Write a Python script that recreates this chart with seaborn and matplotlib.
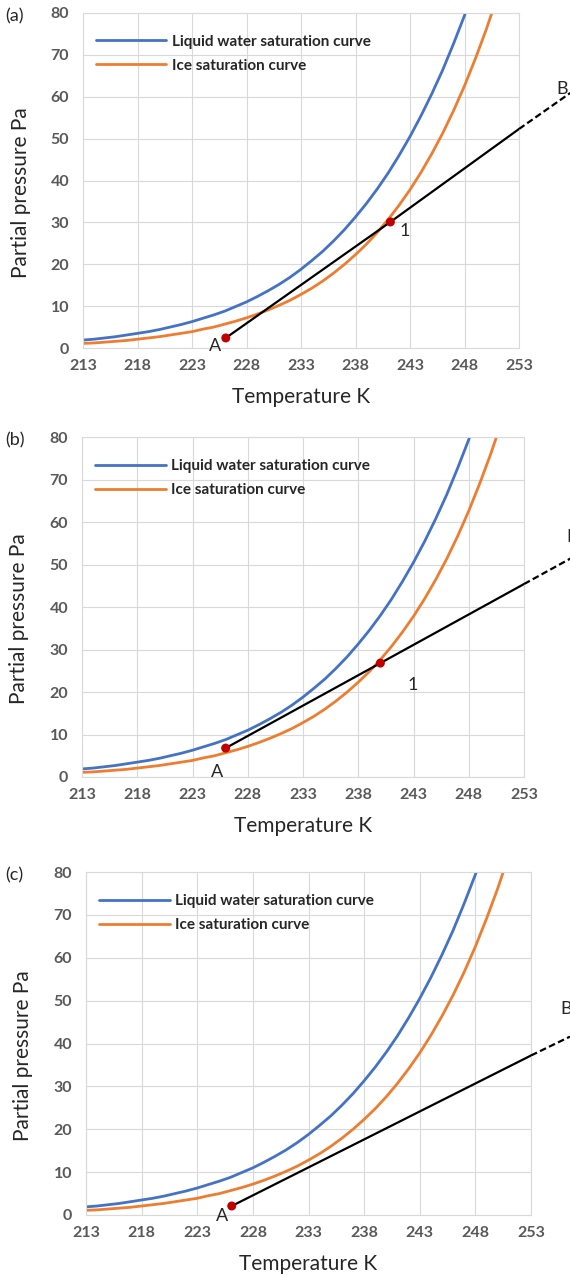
"""
Saturation vapour pressure over liquid water and ice, with mixing lines A-B.
Three stacked panels (a), (b), (c).
"""

import matplotlib.pyplot as plt
import seaborn as sns

# Data
temp_k = list(range(213, 252))
liquid_pa = [1.9, 2.1, 2.4, 2.7, 3.1, 3.5, 3.9, 4.4, 5.0, 5.6,
             6.3, 7.1, 7.9, 8.8, 9.9, 11.0, 12.3, 13.7, 15.2, 16.9,
             18.8, 20.9, 23.1, 25.6, 28.3, 31.3, 34.5, 38.0, 41.8, 46.0,
             50.5, 55.4, 60.7, 66.4, 72.7, 79.4, 86.7, 94.6, 103.1]
ice_pa = [1.1, 1.2, 1.4, 1.6, 1.8, 2.1, 2.4, 2.7, 3.1, 3.5,
          3.9, 4.5, 5.0, 5.7, 6.4, 7.2, 8.1, 9.1, 10.2, 11.4,
          12.8, 14.3, 16.0, 17.9, 20.0, 22.3, 24.8, 27.6, 30.7, 34.1,
          37.8, 41.9, 46.4, 51.3, 56.7, 62.6, 69.1, 76.1, 83.8]

panel_names = ['(a)', '(b)', '(c)']
point_a_temp = [226.1, 226.0, 226.1]
point_a_pa = [2.4, 6.8, 2.1]
point1_temp = [241.2, 240.0, None]
point1_pa = [30.1, 26.8, None]
edge_temp = [253.0, 253.0, 253.0]
edge_pa = [52.3, 45.4, 37.2]
point_b_temp = [257.7, 257.2, 256.5]
point_b_pa = [60.9, 51.4, 41.6]

x_ticks = list(range(213, 254, 5))
y_ticks = list(range(0, 81, 10))

# Layout (pixel boxes of each plot area in the 570x1276 figure)
W, H = 570, 1276
boxes = [(83, 519, 13, 348), (82, 524, 437, 777), (86, 531, 872, 1215)]
a_offsets = [(-11, -8), (-9, -24), (-10, -10)]
one_offsets = [(14, -9), (32, -22), None]
b_offsets = [(-8, 4), (2, 22), (-4, 28)]

BLUE = '#4472C4'
ORANGE = '#ED7D31'
RED = '#C00000'
GRID = '#D9D9D9'
TICK = '#595959'

sns.set_style('whitegrid')
plt.rcParams['font.family'] = ['Lato', 'DejaVu Sans']

fig = plt.figure(figsize=(W / 100, H / 100), dpi=100)

for i, name in enumerate(panel_names):
    left, right, top, bottom = boxes[i]
    ax = fig.add_axes([left / W, 1 - bottom / H, (right - left) / W, (bottom - top) / H])

    sns.lineplot(x=temp_k, y=liquid_pa, ax=ax, color=BLUE, linewidth=2,
                 label='Liquid water saturation curve')
    sns.lineplot(x=temp_k, y=ice_pa, ax=ax, color=ORANGE, linewidth=2,
                 label='Ice saturation curve')

    # mixing line A -> (1) -> axis edge, then dashed on to B
    line_t = [point_a_temp[i]]
    line_p = [point_a_pa[i]]
    if point1_temp[i] is not None:
        line_t.append(point1_temp[i])
        line_p.append(point1_pa[i])
    line_t.append(edge_temp[i])
    line_p.append(edge_pa[i])
    ax.plot(line_t, line_p, color='black', linewidth=1.6, zorder=4)
    ax.plot([edge_temp[i], point_b_temp[i]], [edge_pa[i], point_b_pa[i]],
            color='black', linewidth=1.6, linestyle=(0, (3, 1.5)), clip_on=False, zorder=4)

    dots_t = [point_a_temp[i]]
    dots_p = [point_a_pa[i]]
    if point1_temp[i] is not None:
        dots_t.append(point1_temp[i])
        dots_p.append(point1_pa[i])
    ax.scatter(dots_t, dots_p, color=RED, s=42, zorder=5, edgecolor='none')

    ax.annotate('A', (point_a_temp[i], point_a_pa[i]), xytext=a_offsets[i],
                textcoords='offset pixels', ha='center', va='center', fontsize=13,
                annotation_clip=False)
    if one_offsets[i] is not None:
        ax.annotate('1', (point1_temp[i], point1_pa[i]), xytext=one_offsets[i],
                    textcoords='offset pixels', ha='center', va='center', fontsize=13)
    ax.annotate('B', (point_b_temp[i], point_b_pa[i]), xytext=b_offsets[i],
                textcoords='offset pixels', ha='center', va='center', fontsize=13,
                annotation_clip=False)

    ax.set_xlim(213, 253)
    ax.set_ylim(0, 80)
    ax.set_xticks(x_ticks)
    ax.set_yticks(y_ticks)
    ax.grid(True, color=GRID, linewidth=0.8)
    for sp in ax.spines.values():
        sp.set_color(GRID)
        sp.set_linewidth(0.8)
    ax.tick_params(axis='both', length=0, labelsize=11.5, labelcolor=TICK)
    ax.tick_params(axis='x', pad=8)
    ax.tick_params(axis='y', pad=10)
    for lab in ax.get_xticklabels() + ax.get_yticklabels():
        lab.set_fontweight('bold')

    ax.set_xlabel('Temperature K', fontsize=15)
    ax.set_ylabel('Partial pressure Pa', fontsize=15)
    ax.xaxis.set_label_coords(0.5, -0.115)
    ax.yaxis.set_label_coords(-0.12, 0.465)

    ax.legend(loc='upper left', bbox_to_anchor=(0.03, 0.935), frameon=False,
              prop={'weight': 'bold', 'size': 11}, handlelength=4.6,
              handletextpad=0.35, labelspacing=0.65, borderaxespad=0, borderpad=0)

    fig.text(5 / W, 1 - (top + 3) / H, name, fontsize=13, ha='left', va='center')

plt.savefig('out.png', dpi=100)
plt.close()
